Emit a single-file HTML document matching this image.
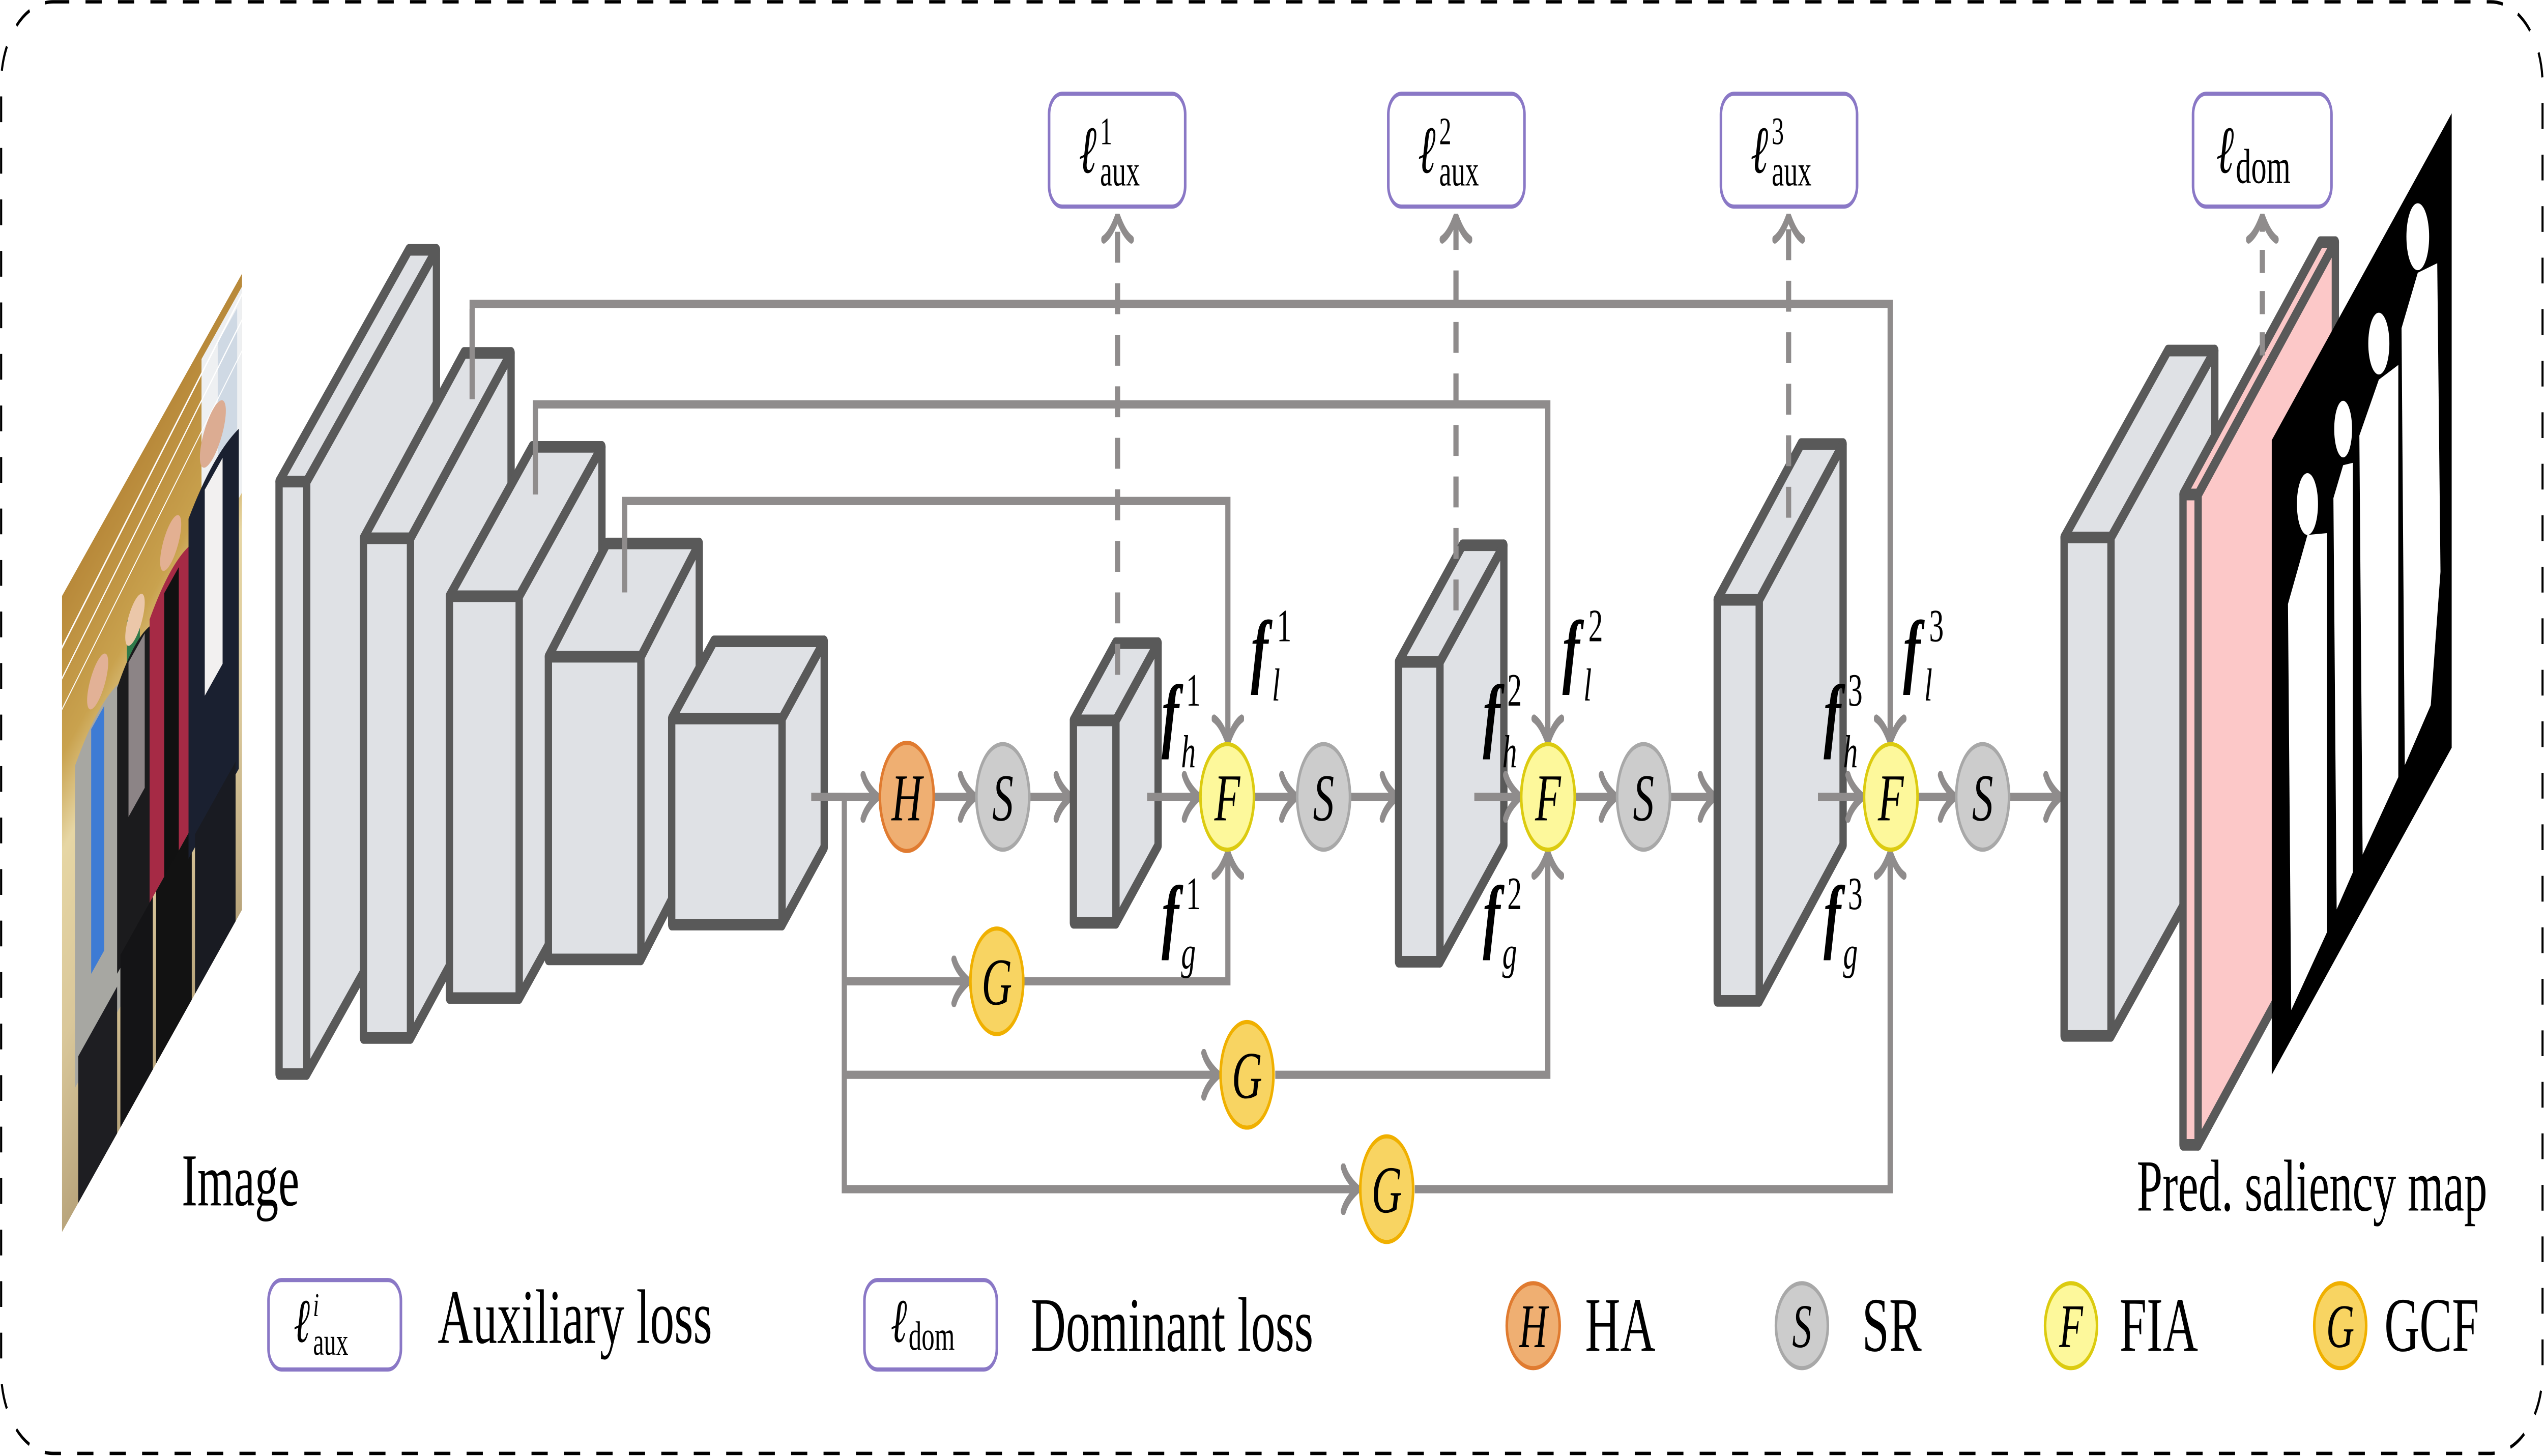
<!DOCTYPE html>
<html><head><meta charset="utf-8"><style>
html,body{margin:0;padding:0;background:#fff;width:100%;height:100%;overflow:hidden}
svg{display:block;width:100vw;height:100vh;position:absolute;left:0;top:0}
.ser{font-family:"Liberation Serif",serif}
</style></head><body>
<svg xmlns="http://www.w3.org/2000/svg" viewBox="0 0 1568 565.3" preserveAspectRatio="none">
<defs>
<marker id="ar" viewBox="0 0 12 20" refX="11" refY="10" markerWidth="12" markerHeight="20" markerUnits="userSpaceOnUse" orient="auto">
<path d="M2,1.5 Q4,6 11,10 Q4,14 2,18.5" fill="none" stroke="#8f8c8c" stroke-width="3.2" stroke-linecap="round"/>
</marker>
<clipPath id="pc"><rect x="0" y="0" width="111" height="247"/></clipPath>
<clipPath id="sc"><polygon points="1400.2,170.9 1511.1,44 1511.1,290.3 1400.2,417.3"/></clipPath>
<linearGradient id="ceil" x1="0" y1="0" x2="0" y2="1">
<stop offset="0" stop-color="#b8893a"/><stop offset="0.25" stop-color="#c9a24e"/><stop offset="0.4" stop-color="#e6d6a4"/><stop offset="0.7" stop-color="#d9c79a"/><stop offset="1" stop-color="#b9a57c"/>
</linearGradient>
</defs>

<rect x="0.7" y="0.7" width="1566.4" height="563.6" rx="32" fill="none" stroke="#000" stroke-width="1.3" stroke-dasharray="10 10"/>

<g transform="translate(38.2,231.4) skewY(-48.44)">
<g clip-path="url(#pc)">
<rect x="0" y="0" width="111" height="247" fill="url(#ceil)"/>
<rect x="86" y="5" width="25" height="80" fill="#eef0f2"/>
<rect x="96" y="10" width="12" height="70" fill="#cfd9e4"/>
<line x1="0" y1="20" x2="111" y2="8" stroke="#fff" stroke-width="1.2"/>
<line x1="0" y1="32" x2="111" y2="18" stroke="#fff" stroke-width="1"/>
<line x1="0" y1="44" x2="111" y2="30" stroke="#fff" stroke-width="0.8"/>
<rect x="40" y="55" width="8" height="25" fill="#2f7a4a"/>
<ellipse cx="22" cy="58" rx="6.5" ry="8" fill="#e2b196"/>
<path d="M8,75 Q22,66 36,74 L38,200 L8,200 Z" fill="#a7a7a2"/>
<rect x="18" y="72" width="8" height="95" fill="#3d7bd4"/>
<rect x="10" y="190" width="24" height="57" fill="#1e1e22"/>
<ellipse cx="45" cy="60" rx="6" ry="7.5" fill="#ebc7a9"/>
<path d="M34,74 Q45,66 56,74 L56,185 L34,185 Z" fill="#1b1b1d"/>
<rect x="41" y="72" width="10" height="60" fill="#8c8486"/>
<rect x="36" y="180" width="20" height="67" fill="#141416"/>
<ellipse cx="67" cy="55" rx="6.5" ry="8" fill="#e3b092"/>
<path d="M54,70 Q67,62 80,70 L80,180 L54,180 Z" fill="#a62a45"/>
<rect x="63" y="70" width="9" height="120" fill="#111"/>
<rect x="58" y="180" width="22" height="67" fill="#121212"/>
<ellipse cx="93" cy="42" rx="8" ry="9.5" fill="#dcac92"/>
<path d="M78,58 Q93,50 109,58 L109,190 L78,190 Z" fill="#1a2030"/>
<rect x="88" y="58" width="11" height="80" fill="#f2f0f0"/>
<rect x="82" y="185" width="25" height="62" fill="#191b22"/>
</g>
</g>
<text x="112" y="468" class="ser" font-size="29" fill="#000">Image</text>

<g fill="none" stroke="#8f8c8c" stroke-width="3.2">
<polyline points="291,155 291,118 1165,118 1165,288" marker-end="url(#ar)"/>
<polyline points="330,192 330,157 954,157 954,288" marker-end="url(#ar)"/>
<polyline points="385,230 385,194.5 756.8,194.5 756.8,288" marker-end="url(#ar)"/>
<polyline points="520.4,309.4 520.4,461.7 837,461.7" marker-end="url(#ar)"/>
<line x1="520.4" y1="381" x2="597" y2="381" marker-end="url(#ar)"/>
<line x1="520.4" y1="417.3" x2="751" y2="417.3" marker-end="url(#ar)"/>
<polyline points="631,381 756.8,381 756.8,331" marker-end="url(#ar)"/>
<polyline points="786,417.3 954,417.3 954,331" marker-end="url(#ar)"/>
<polyline points="872,461.7 1165,461.7 1165,331" marker-end="url(#ar)"/>
<line x1="500" y1="309.4" x2="541" y2="309.4" marker-end="url(#ar)"/>
<line x1="575.5" y1="309.4" x2="601" y2="309.4" marker-end="url(#ar)"/>
<line x1="634" y1="309.4" x2="660" y2="309.4" marker-end="url(#ar)"/>
<line x1="772.7" y1="309.4" x2="799" y2="309.4" marker-end="url(#ar)"/>
<line x1="832" y1="309.4" x2="861" y2="309.4" marker-end="url(#ar)"/>
<line x1="970.4" y1="309.4" x2="996" y2="309.4" marker-end="url(#ar)"/>
<line x1="1029" y1="309.4" x2="1057" y2="309.4" marker-end="url(#ar)"/>
<line x1="1181.7" y1="309.4" x2="1205" y2="309.4" marker-end="url(#ar)"/>
<line x1="1238" y1="309.4" x2="1270" y2="309.4" marker-end="url(#ar)"/>
</g>

<g stroke="#595959" stroke-width="4.5" stroke-linejoin="round" fill="#dfe1e5">
<path d="M172,187 L252,97 L269,97 L189,187 Z"/><path d="M189,187 L269,97 L269,327 L189,417 Z"/><rect x="172" y="187" width="17" height="230"/>
<path d="M224,209 L286,137 L315,137 L253,209 Z"/><path d="M253,209 L315,137 L315,331 L253,403 Z"/><rect x="224" y="209" width="29" height="194"/>
<path d="M277,231.5 L328,173.5 L371,173.5 L320,231.5 Z"/><path d="M320,231.5 L371,173.5 L371,329.5 L320,387.5 Z"/><rect x="277" y="231.5" width="43" height="156"/>
<path d="M338,255 L374,211 L431,211 L395,255 Z"/><path d="M395,255 L431,211 L431,328.5 L395,372.5 Z"/><rect x="338" y="255" width="57" height="117.5"/>
<path d="M414,279 L440,249 L508,249 L482,279 Z"/><path d="M482,279 L508,249 L508,329 L482,359 Z"/><rect x="414" y="279" width="68" height="80"/>
</g>
<g stroke="#8f8c8c" stroke-width="3.2">
<line x1="291" y1="155" x2="291" y2="120"/><line x1="330" y1="192" x2="330" y2="158"/><line x1="385" y1="230" x2="385" y2="196"/>
<line x1="500" y1="309.4" x2="521" y2="309.4"/>
</g>

<g fill="none" stroke="#8f8c8c" stroke-width="3.2" stroke-dasharray="12 8">
<line x1="688.8" y1="262" x2="688.8" y2="84" marker-end="url(#ar)"/>
<line x1="897.4" y1="237" x2="897.4" y2="84" marker-end="url(#ar)"/>
<line x1="1102.4" y1="201" x2="1102.4" y2="84" marker-end="url(#ar)"/>
</g>

<g stroke="#595959" stroke-width="4.5" stroke-linejoin="round" fill="#dfe1e5">
<path d="M661.6,279.7 L687.6,249.7 L713.8,249.7 L687.8,279.7 Z"/><path d="M687.8,279.7 L713.8,249.7 L713.8,328.3 L687.8,358.3 Z"/><rect x="661.6" y="279.7" width="26.2" height="78.6"/>
<path d="M862,257 L901.4,211.7 L926.9,211.7 L887.5,257 Z"/><path d="M887.5,257 L926.9,211.7 L926.9,328.1 L887.5,373.4 Z"/><rect x="862" y="257" width="25.5" height="116.4"/>
<path d="M1058.4,232.9 L1110.1,172.4 L1136,172.4 L1084.3,232.9 Z"/><path d="M1084.3,232.9 L1136,172.4 L1136,328.1 L1084.3,388.6 Z"/><rect x="1058.4" y="232.9" width="25.9" height="155.7"/>
</g>
<g fill="none" stroke="#8f8c8c" stroke-width="3.2">
<line x1="688.8" y1="262" x2="688.8" y2="248" stroke-dasharray="12 8"/>
<line x1="897.4" y1="237" x2="897.4" y2="212" stroke-dasharray="12 8"/>
<line x1="1102.4" y1="201" x2="1102.4" y2="172" stroke-dasharray="12 8"/>
<line x1="707" y1="309.4" x2="739" y2="309.4" marker-end="url(#ar)"/>
<line x1="908.7" y1="309.4" x2="937" y2="309.4" marker-end="url(#ar)"/>
<line x1="1120.5" y1="309.4" x2="1148" y2="309.4" marker-end="url(#ar)"/>
</g>

<g fill="#fff" stroke="#8a78c6" stroke-width="1.6">
<rect x="646.6" y="36.4" width="83.9" height="43.8" rx="8"/>
<rect x="855.7" y="36.4" width="83.9" height="43.8" rx="8"/>
<rect x="1060.7" y="36.4" width="83.9" height="43.8" rx="8"/>
<rect x="1351.7" y="36.4" width="85.3" height="43.8" rx="8"/>
</g>
<g class="ser" fill="#000">
<text x="665" y="67" font-size="26" font-style="italic">ℓ</text><text x="678" y="56" font-size="15">1</text><text x="678" y="72" font-size="17">aux</text>
<text x="874" y="67" font-size="26" font-style="italic">ℓ</text><text x="887" y="56" font-size="15">2</text><text x="887" y="72" font-size="17">aux</text>
<text x="1079" y="67" font-size="26" font-style="italic">ℓ</text><text x="1092" y="56" font-size="15">3</text><text x="1092" y="72" font-size="17">aux</text>
<text x="1366" y="67" font-size="26" font-style="italic">ℓ</text><text x="1378" y="71" font-size="19">dom</text>
</g>

<g stroke-width="1.6">
<ellipse cx="558.9" cy="309.4" rx="16.6" ry="21" fill="#efaf72" stroke="#e07b30"/>
<ellipse cx="618.1" cy="309.4" rx="16.3" ry="20.5" fill="#cccccc" stroke="#a8a8a8"/>
<ellipse cx="756.4" cy="309.4" rx="16.5" ry="20.5" fill="#fdf89b" stroke="#dccb10"/>
<ellipse cx="815.8" cy="309.4" rx="16.3" ry="20.5" fill="#cccccc" stroke="#a8a8a8"/>
<ellipse cx="954.1" cy="309.4" rx="16.5" ry="20.5" fill="#fdf89b" stroke="#dccb10"/>
<ellipse cx="1013" cy="309.4" rx="16.3" ry="20.5" fill="#cccccc" stroke="#a8a8a8"/>
<ellipse cx="1165.4" cy="309.4" rx="16.5" ry="20.5" fill="#fdf89b" stroke="#dccb10"/>
<ellipse cx="1222" cy="309.4" rx="16.3" ry="20.5" fill="#cccccc" stroke="#a8a8a8"/>
<ellipse cx="614.4" cy="381" rx="16.3" ry="20.5" fill="#f8d462" stroke="#f0b000"/>
<ellipse cx="768.6" cy="417.3" rx="16.3" ry="20.5" fill="#f8d462" stroke="#f0b000"/>
<ellipse cx="854.7" cy="461.7" rx="16.3" ry="20.5" fill="#f8d462" stroke="#f0b000"/>
</g>
<g class="ser" font-style="italic" font-size="26" fill="#000" text-anchor="middle">
<text x="558.9" y="318.5">H</text>
<text x="618.1" y="318.5">S</text><text x="815.8" y="318.5">S</text><text x="1013" y="318.5">S</text><text x="1222" y="318.5">S</text>
<text x="756.4" y="318.5">F</text><text x="954.1" y="318.5">F</text><text x="1165.4" y="318.5">F</text>
<text x="614.4" y="390">G</text><text x="768.6" y="426.3">G</text><text x="854.7" y="470.7">G</text>
</g>

<g class="ser" fill="#000">
<g font-size="32" font-style="italic" font-weight="bold">
<text x="716" y="288">f</text><text x="771" y="263">f</text><text x="716" y="366">f</text>
<text x="914" y="288">f</text><text x="963" y="263">f</text><text x="914" y="366">f</text>
<text x="1124" y="288">f</text><text x="1173" y="263">f</text><text x="1124" y="366">f</text>
</g>
<g font-size="18" font-style="italic">
<text x="728" y="298">h</text><text x="784" y="272">l</text><text x="728" y="376">g</text>
<text x="926" y="298">h</text><text x="976" y="272">l</text><text x="926" y="376">g</text>
<text x="1136" y="298">h</text><text x="1186" y="272">l</text><text x="1136" y="376">g</text>
</g>
<g font-size="18">
<text x="731" y="274">1</text><text x="787" y="249">1</text><text x="731" y="353">1</text>
<text x="929" y="274">2</text><text x="979" y="249">2</text><text x="929" y="353">2</text>
<text x="1139" y="274">3</text><text x="1189" y="249">3</text><text x="1139" y="353">3</text>
</g>
</g>

<g stroke="#595959" stroke-width="4.5" stroke-linejoin="round" fill="#dfe1e5">
<path d="M1272.2,208.7 L1336.2,136.1 L1365.1,136.1 L1301.1,208.7 Z"/><path d="M1301.1,208.7 L1365.1,136.1 L1365.1,329.6 L1301.1,402.2 Z"/><rect x="1272.2" y="208.7" width="28.9" height="193.5"/>
</g>
<g stroke="#595959" stroke-width="4.5" stroke-linejoin="round" fill="#fcc8c8">
<path d="M1345.5,192 L1430.1,94 L1439.4,94 L1354.8,192 Z"/><path d="M1354.8,192 L1439.4,94 L1439.4,346.5 L1354.8,444.5 Z"/><rect x="1345.5" y="192" width="9.3" height="252.5"/>
</g>
<line x1="1394.4" y1="138" x2="1394.4" y2="84" stroke="#8f8c8c" stroke-width="3.2" stroke-dasharray="9 7" marker-end="url(#ar)"/>

<polygon points="1400.2,170.9 1511.1,44 1511.1,290.3 1400.2,417.3" fill="#000"/>
<g clip-path="url(#sc)" fill="#fff">
<ellipse cx="1422.2" cy="195.7" rx="6.5" ry="12"/>
<polygon points="1410.2,234.5 1422.2,207.7 1434.2,207 1434.2,362 1412.2,392.2"/>
<ellipse cx="1444.2" cy="166.6" rx="5.5" ry="11"/>
<polygon points="1438.2,193.4 1444.2,180.6 1450.2,179.7 1450.2,338.7 1440.2,353.1"/>
<ellipse cx="1466.2" cy="133.4" rx="6.5" ry="12"/>
<polygon points="1454.2,169.1 1466.2,147.4 1478.2,141.7 1478.2,301.7 1456.2,331.8"/>
<ellipse cx="1490.2" cy="91.9" rx="7" ry="13"/>
<polygon points="1480.2,127.4 1490.2,105.9 1502.2,102.2 1504.2,222 1498.2,273.8 1482.2,297.1"/>
</g>
<text x="1317" y="470" class="ser" font-size="28.5" fill="#000">Pred. saliency map</text>

<g fill="#fff" stroke="#8a78c6" stroke-width="1.6">
<rect x="165.5" y="497" width="81.6" height="34.7" rx="8"/>
<rect x="532.8" y="497" width="81.6" height="34.7" rx="8"/>
</g>
<g class="ser" fill="#000">
<text x="181" y="521" font-size="24" font-style="italic">ℓ</text><text x="193" y="511" font-size="13" font-style="italic">i</text><text x="193" y="526" font-size="15">aux</text>
<text x="549" y="521" font-size="24" font-style="italic">ℓ</text><text x="560" y="524" font-size="16">dom</text>
<text x="269.8" y="521.4" font-size="30">Auxiliary loss</text>
<text x="635.3" y="524.5" font-size="30">Dominant loss</text>
<text x="977" y="524.5" font-size="30">HA</text>
<text x="1147.7" y="524.5" font-size="30">SR</text>
<text x="1306.4" y="524.5" font-size="30">FIA</text>
<text x="1469.6" y="524.5" font-size="30">GCF</text>
</g>
<g stroke-width="1.6">
<ellipse cx="945" cy="514.7" rx="16.3" ry="16.5" fill="#efaf72" stroke="#e07b30"/>
<ellipse cx="1110.6" cy="514.7" rx="16" ry="16.5" fill="#cccccc" stroke="#a8a8a8"/>
<ellipse cx="1276.5" cy="514.7" rx="16" ry="16.5" fill="#fdf89b" stroke="#dccb10"/>
<ellipse cx="1442.4" cy="514.7" rx="16" ry="16.5" fill="#f8d462" stroke="#f0b000"/>
</g>
<g class="ser" font-style="italic" font-size="24" fill="#000" text-anchor="middle">
<text x="945" y="523">H</text><text x="1110.6" y="523">S</text><text x="1276.5" y="523">F</text><text x="1442.4" y="523">G</text>
</g>
</svg>
</body></html>
